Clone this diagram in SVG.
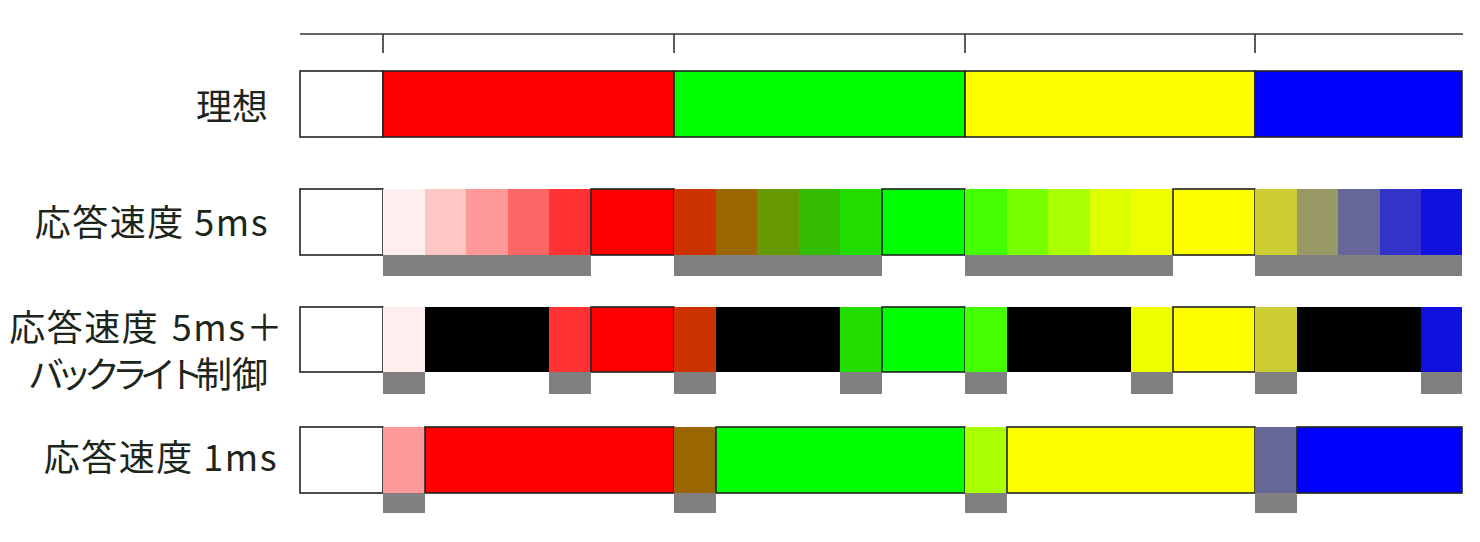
<svg xmlns="http://www.w3.org/2000/svg" width="1480" height="542" viewBox="0 0 1480 542">
<style>
.lbl{font-family:"Noto Sans CJK JP","Liberation Sans",sans-serif;font-size:36px;fill:#1c261c;text-anchor:end}
.ls{letter-spacing:1.5px}
.kana{letter-spacing:-8px}
.box{stroke:#222;stroke-width:1.6}
.g{fill:#808080}
</style>
<rect width="1480" height="542" fill="#fff"/>
<g id="axis" stroke="#333" stroke-width="1.6" fill="none">
<line x1="300" y1="34" x2="1463" y2="34"/>
<line x1="383" y1="34" x2="383" y2="53"/>
<line x1="674" y1="34" x2="674" y2="53"/>
<line x1="965" y1="34" x2="965" y2="53"/>
<line x1="1255" y1="34" x2="1255" y2="53"/>
</g>
<g id="row-ideal">
<text class="lbl" x="268" y="120">理想</text>
<rect class="box" x="300" y="71" width="83" height="66" fill="#fff"/>
<rect class="box" x="383" y="71" width="291" height="66" fill="#ff0000"/>
<rect class="box" x="674" y="71" width="291" height="66" fill="#00ff00"/>
<rect class="box" x="965" y="71" width="290" height="66" fill="#ffff00"/>
<rect class="box" x="1255" y="71" width="207" height="66" fill="#0000ff"/>
</g>
<g id="row-5ms">
<text class="lbl ls" x="269" y="236">応答速度 5ms</text>
<rect class="box" x="300" y="189" width="83" height="66" fill="#fff"/>
<rect x="383" y="189" width="42" height="66" fill="#ffeeee"/>
<rect x="425" y="189" width="41" height="66" fill="#ffc6c6"/>
<rect x="466" y="189" width="42" height="66" fill="#ff9999"/>
<rect x="508" y="189" width="41" height="66" fill="#ff6666"/>
<rect x="549" y="189" width="42" height="66" fill="#ff3333"/>
<rect class="box" x="591" y="189" width="83" height="66" fill="#ff0000"/>
<rect x="674" y="189" width="42" height="66" fill="#cc3300"/>
<rect x="716" y="189" width="41" height="66" fill="#996600"/>
<rect x="757" y="189" width="42" height="66" fill="#669900"/>
<rect x="799" y="189" width="41" height="66" fill="#33bb00"/>
<rect x="840" y="189" width="42" height="66" fill="#22dd00"/>
<rect class="box" x="882" y="189" width="83" height="66" fill="#00ff00"/>
<rect x="965" y="189" width="42" height="66" fill="#44ff00"/>
<rect x="1007" y="189" width="41" height="66" fill="#77ff00"/>
<rect x="1048" y="189" width="42" height="66" fill="#aaff00"/>
<rect x="1090" y="189" width="41" height="66" fill="#ddff00"/>
<rect x="1131" y="189" width="42" height="66" fill="#eeff00"/>
<rect class="box" x="1173" y="189" width="82" height="66" fill="#ffff00"/>
<rect x="1255" y="189" width="42" height="66" fill="#cccc33"/>
<rect x="1297" y="189" width="41" height="66" fill="#999966"/>
<rect x="1338" y="189" width="42" height="66" fill="#666699"/>
<rect x="1380" y="189" width="41" height="66" fill="#3333cc"/>
<rect x="1421" y="189" width="41" height="66" fill="#1111dd"/>
<rect class="g" x="383" y="255" width="208" height="21"/>
<rect class="g" x="674" y="255" width="208" height="21"/>
<rect class="g" x="965" y="255" width="208" height="21"/>
<rect class="g" x="1255" y="255" width="207" height="21"/>
</g>
<g id="row-5ms-backlight">
<text class="lbl ls" x="284" y="341">応答速度<tspan dx="3"> 5ms＋</tspan></text>
<text class="lbl" x="268" y="388"><tspan class="kana">バックライト</tspan>制御</text>
<rect class="box" x="300" y="307" width="83" height="65" fill="#fff"/>
<rect x="383" y="307" width="42" height="65" fill="#ffeeee"/>
<rect x="425" y="307" width="124" height="65" fill="#000"/>
<rect x="549" y="307" width="42" height="65" fill="#ff3333"/>
<rect class="box" x="591" y="307" width="83" height="65" fill="#ff0000"/>
<rect x="674" y="307" width="42" height="65" fill="#cc3300"/>
<rect x="716" y="307" width="124" height="65" fill="#000"/>
<rect x="840" y="307" width="42" height="65" fill="#22dd00"/>
<rect class="box" x="882" y="307" width="83" height="65" fill="#00ff00"/>
<rect x="965" y="307" width="42" height="65" fill="#44ff00"/>
<rect x="1007" y="307" width="124" height="65" fill="#000"/>
<rect x="1131" y="307" width="42" height="65" fill="#eeff00"/>
<rect class="box" x="1173" y="307" width="82" height="65" fill="#ffff00"/>
<rect x="1255" y="307" width="42" height="65" fill="#cccc33"/>
<rect x="1297" y="307" width="124" height="65" fill="#000"/>
<rect x="1421" y="307" width="41" height="65" fill="#1111dd"/>
<rect class="g" x="383" y="372" width="42" height="22"/>
<rect class="g" x="549" y="372" width="42" height="22"/>
<rect class="g" x="674" y="372" width="42" height="22"/>
<rect class="g" x="840" y="372" width="42" height="22"/>
<rect class="g" x="965" y="372" width="42" height="22"/>
<rect class="g" x="1131" y="372" width="42" height="22"/>
<rect class="g" x="1255" y="372" width="42" height="22"/>
<rect class="g" x="1421" y="372" width="41" height="22"/>
</g>
<g id="row-1ms">
<text class="lbl ls" x="278" y="471">応答速度 1ms</text>
<rect class="box" x="300" y="427" width="83" height="66" fill="#fff"/>
<rect x="383" y="427" width="42" height="66" fill="#ff9999"/>
<rect class="box" x="425" y="427" width="249" height="66" fill="#ff0000"/>
<rect x="674" y="427" width="42" height="66" fill="#996600"/>
<rect class="box" x="716" y="427" width="249" height="66" fill="#00ff00"/>
<rect x="965" y="427" width="42" height="66" fill="#aaff00"/>
<rect class="box" x="1007" y="427" width="248" height="66" fill="#ffff00"/>
<rect x="1255" y="427" width="42" height="66" fill="#666699"/>
<rect class="box" x="1297" y="427" width="165" height="66" fill="#0000ff"/>
<rect class="g" x="383" y="493" width="42" height="20"/>
<rect class="g" x="674" y="493" width="42" height="20"/>
<rect class="g" x="965" y="493" width="42" height="20"/>
<rect class="g" x="1255" y="493" width="42" height="20"/>
</g>
</svg>
